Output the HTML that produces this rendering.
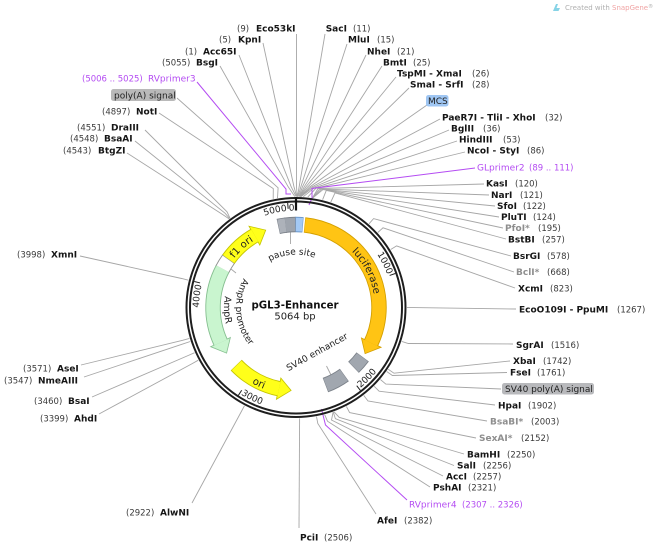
<!DOCTYPE html>
<html><head><meta charset="utf-8"><style>
html,body{margin:0;padding:0;background:#fff;}
svg{display:block;}
text{font-family:"DejaVu Sans","Liberation Sans",sans-serif;}
.n{font-size:9px;font-weight:bold;fill:#161616;}
.p{font-size:8.5px;fill:#3a3a3a;}
.g{fill:#8e8e8e;}
.pu{fill:#b44cf2;}
.f{font-size:9px;fill:#222;}
</style></head><body>
<svg width="660" height="548" viewBox="0 0 660 548" xmlns="http://www.w3.org/2000/svg">
<rect width="660" height="548" fill="#fff"/>
<defs>
<path id="cw80" d="M296,386.5 A79,79 0 1 1 296,228.5 A79,79 0 1 1 296,386.5"/>
<path id="cw53" d="M296,360.5 A53,53 0 1 1 296,254.5 A53,53 0 1 1 296,360.5"/>
<path id="cw97" d="M296,404.5 A97,97 0 1 1 296,210.5 A97,97 0 1 1 296,404.5"/>
<path id="ccw87" d="M296,220 A87.5,87.5 0 1 0 296,395 A87.5,87.5 0 1 0 296,220"/>
<path id="ccw72" d="M296,235.5 A72,72 0 1 0 296,379.5 A72,72 0 1 0 296,235.5"/>
<path id="ccw60" d="M296,247.5 A60,60 0 1 0 296,367.5 A60,60 0 1 0 296,247.5"/>
<path id="ccw103" d="M296,204.5 A103,103 0 1 0 296,410.5 A103,103 0 1 0 296,204.5"/>
</defs>

<!-- watermark -->
<path d="M553,11 L556,4 L558,4 L556.5,8 L560,8 L558.5,11 Z" fill="#86d3e6"/>
<text x="565" y="10" style="font-size:7px;fill:#b0b0b0">Created with <tspan style="fill:#f0a4a4">SnapGene</tspan><tspan style="font-size:5px" dy="-2">®</tspan></text>

<!-- connector lines -->
<g fill="none" stroke="#a6a6a6" stroke-width="0.9">
<polyline points="296.5,34 296.5,186.5 297.2,197"/>
<polyline points="263,43 293.9,186.5 296.7,196.5"/>
<polyline points="239,55 291.1,186.6 296.1,196.5"/>
<polyline points="220,66 288.2,186.8 294.8,196.5"/>
<polyline points="177,98 278.1,187.8 277.5,198.1"/>
<polyline points="159,113 273.3,188.6 273.2,198.9"/>
<polyline points="145,130 227,211.8 230,218.2"/>
<polyline points="135,141 225,213.2 229.7,218.5"/>
<polyline points="127,153 223,214.8 229.1,218.9"/>
<polyline points="325,34 299.2,186.5 297.5,196.5"/>
<polyline points="347,44 300.9,186.6 298.1,196.5"/>
<polyline points="366,55 302.5,186.7 298.9,196.5"/>
<polyline points="382,66 304.2,186.8 299.4,196.6"/>
<polyline points="396,77 305.9,186.9 299.6,196.6"/>
<polyline points="409,88 307.6,187 299.9,196.6"/>
<polyline points="427,105 309.3,187.2 300.5,196.6"/>
<polyline points="440,119 311,187.4 300.4,196.6"/>
<polyline points="449,130 312.6,187.6 301,196.6"/>
<polyline points="457,141 314.3,187.9 303.3,196.7"/>
<polyline points="465,152 316,188.2 307.8,197.1"/>
<polyline points="484,184 318,188.5 312.5,197.7"/>
<polyline points="489,195 319.7,188.9 312.6,197.7"/>
<polyline points="495,206 321.4,189.2 312.7,197.8"/>
<polyline points="499,217 323,189.5 313,197.8"/>
<polyline points="503,228 326.3,190.4 322.6,199.7"/>
<polyline points="506,239 335,192.9 330.8,202.1"/>
<polyline points="511,256 373.6,218.6 369,223.8"/>
<polyline points="514,272 383,227.8 377.8,232.5"/>
<polyline points="515,288 396.6,245.9 390.7,249.5"/>
<polyline points="516,309 414,307.6 407,307.6"/>
<polyline points="513,344 408.4,343.5 401.7,341.4"/>
<polyline points="510,361 394,373.2 388.2,369.3"/>
<polyline points="507,372.5 392.4,375.5 386.7,371.5"/>
<polyline points="501,389 385.8,384.1 380.4,379.5"/>
<polyline points="495,405 379.1,391.2 374.2,386.3"/>
<polyline points="487,421 368,401 363.7,395.4"/>
<polyline points="476,438 349.6,412.6 346.4,406.4"/>
<polyline points="464,454 339.2,417.3 334,411.8"/>
<polyline points="454,465.5 335.4,418.7 333.3,412.1"/>
<polyline points="443,476 331.5,420 333.1,412.1"/>
<polyline points="430,487 327.5,421.2 324.7,414.7"/>
<polyline points="376,514 317.8,423.5 316.5,416.6"/>
<polyline points="299,528 299.6,418.4"/>
<polyline points="192,503 241.1,412 244.4,405.8"/>
<polyline points="99,414 192.2,363.6 198.3,360.2"/>
<polyline points="92,397 188.2,355.5 194.6,352.7"/>
<polyline points="84,377 183.7,343.7 190.3,341.5"/>
<polyline points="81,365 182.6,340.3 189.4,338.4"/>
<polyline points="80,256 181.6,278.5 188.4,280.2"/>
<!-- inner feature label lines -->
<line x1="290.5" y1="231" x2="290.5" y2="244"/>
<line x1="326.5" y1="366" x2="331" y2="375"/>
<line x1="226" y1="265" x2="236" y2="273"/>
</g>
<g fill="none" stroke="#b44cf2" stroke-width="1">
<polyline points="197,82 286,189 286,194 291,194"/>
<polyline points="475,168 312,188.5 312,198 309,205"/>
<polyline points="407,500 325.5,425 323,415 321.5,409"/>
</g>

<!-- backbone -->
<circle cx="296" cy="307.5" r="109.5" fill="none" stroke="#1e1e1e" stroke-width="2"/>
<circle cx="296" cy="307.5" r="106" fill="none" stroke="#1e1e1e" stroke-width="2"/>

<!-- feature outlines -->
<g fill="none" stroke-width="15.4">
<circle cx="296" cy="307.5" r="83" stroke="#d4a000" stroke-dasharray="158.97 700" transform="rotate(-84.09 296 307.5)"/>
<circle cx="296" cy="307.5" r="83" stroke="#c4c400" stroke-dasharray="36.5 700" transform="rotate(215.35 296 307.5)"/>
<circle cx="296" cy="307.5" r="83" stroke="#86bf90" stroke-dasharray="77.5 700" transform="rotate(154.75 296 307.5)"/>
<circle cx="296" cy="307.5" r="83" stroke="#c4c400" stroke-dasharray="50.12 700" transform="rotate(101.45 296 307.5)"/>
<circle cx="296" cy="307.5" r="83" stroke="#8e8e8e" stroke-dasharray="11.73 700" transform="rotate(207.55 296 307.5)"/>
<circle cx="296" cy="307.5" r="83" stroke="#7c828a" stroke-dasharray="7.96 700" transform="rotate(257.65 296 307.5)"/>
<circle cx="296" cy="307.5" r="83" stroke="#7c828a" stroke-dasharray="10.72 700" transform="rotate(262.45 296 307.5)"/>
<circle cx="296" cy="307.5" r="83" stroke="#6b98cc" stroke-dasharray="7.53 700" transform="rotate(-90.35 296 307.5)"/>
<circle cx="296" cy="307.5" r="83" stroke="#7c828a" stroke-dasharray="13.9 700" transform="rotate(36.55 296 307.5)"/>
<circle cx="296" cy="307.5" r="83" stroke="#7c828a" stroke-dasharray="21.58 700" transform="rotate(54.35 296 307.5)"/>
</g>
<g stroke-width="1.6" stroke-linejoin="miter">
<polygon points="285.84,235.21 283.06,215.4 296,224.5" fill="#d4a000" stroke="#d4a000" transform="rotate(123.3 296 307.5)"/>
<polygon points="285.84,235.21 283.06,215.4 296,224.5" fill="#c4c400" stroke="#c4c400" transform="rotate(338.2 296 307.5)"/>
<polygon points="306.16,235.21 308.94,215.4 296,224.5" fill="#86bf90" stroke="#86bf90" transform="rotate(237.1 296 307.5)"/>
<polygon points="306.16,235.21 308.94,215.4 296,224.5" fill="#c4c400" stroke="#c4c400" transform="rotate(183.8 296 307.5)"/>
</g>
<!-- feature fills -->
<g fill="none" stroke-width="13.6">
<circle cx="296" cy="307.5" r="83" stroke="#ffc414" stroke-dasharray="157.96 700" transform="rotate(-83.74 296 307.5)"/>
<circle cx="296" cy="307.5" r="83" stroke="#ffff1a" stroke-dasharray="35.49 700" transform="rotate(215.7 296 307.5)"/>
<circle cx="296" cy="307.5" r="83" stroke="#c9f5cf" stroke-dasharray="76.49 700" transform="rotate(155.1 296 307.5)"/>
<circle cx="296" cy="307.5" r="83" stroke="#ffff1a" stroke-dasharray="49.11 700" transform="rotate(101.8 296 307.5)"/>
<circle cx="296" cy="307.5" r="83" stroke="#ffffff" stroke-dasharray="10.72 700" transform="rotate(207.9 296 307.5)"/>
<circle cx="296" cy="307.5" r="83" stroke="#adb2ba" stroke-dasharray="6.95 700" transform="rotate(258 296 307.5)"/>
<circle cx="296" cy="307.5" r="83" stroke="#9ea4ad" stroke-dasharray="9.71 700" transform="rotate(262.8 296 307.5)"/>
<circle cx="296" cy="307.5" r="83" stroke="#a3c9f5" stroke-dasharray="6.52 700" transform="rotate(-90 296 307.5)"/>
<circle cx="296" cy="307.5" r="83" stroke="#a1a7af" stroke-dasharray="12.89 700" transform="rotate(36.9 296 307.5)"/>
<circle cx="296" cy="307.5" r="83" stroke="#a1a7af" stroke-dasharray="20.57 700" transform="rotate(54.7 296 307.5)"/>
</g>
<g>
<polygon points="285.84,235.21 283.06,215.4 296,224.5" fill="#ffc414" transform="rotate(123.3 296 307.5)"/>
<polygon points="285.84,235.21 283.06,215.4 296,224.5" fill="#ffff1a" transform="rotate(338.2 296 307.5)"/>
<polygon points="306.16,235.21 308.94,215.4 296,224.5" fill="#c9f5cf" transform="rotate(237.1 296 307.5)"/>
<polygon points="306.16,235.21 308.94,215.4 296,224.5" fill="#ffff1a" transform="rotate(183.8 296 307.5)"/>
</g>

<!-- ticks -->
<g stroke="#1e1e1e" stroke-width="1">
<line x1="296" y1="202.5" x2="296" y2="208.5" transform="rotate(71.09 296 307.5)"/>
<line x1="296" y1="202.5" x2="296" y2="208.5" transform="rotate(142.17 296 307.5)"/>
<line x1="296" y1="202.5" x2="296" y2="208.5" transform="rotate(213.27 296 307.5)"/>
<line x1="296" y1="202.5" x2="296" y2="208.5" transform="rotate(284.36 296 307.5)"/>
<line x1="296" y1="202.5" x2="296" y2="208.5" transform="rotate(355.45 296 307.5)"/>
</g>
<line x1="296" y1="197.5" x2="296" y2="210.5" stroke="#111" stroke-width="2.2"/>

<!-- arc texts -->
<g style="font-size:9px;fill:#222">
<text><textPath href="#cw97" startOffset="69.5%" text-anchor="end">1000</textPath></text>
<text><textPath href="#cw97" startOffset="28.74%" text-anchor="end">4000</textPath></text>
<text><textPath href="#cw97" startOffset="48.49%" text-anchor="end">5000</textPath></text>
<text><textPath href="#cw97" startOffset="49.75%" text-anchor="end">0</textPath></text>
<text><textPath href="#ccw103" startOffset="60.76%" text-anchor="start">2000</textPath></text>
<text><textPath href="#ccw103" startOffset="41.01%" text-anchor="start">3000</textPath></text>
<text><textPath href="#cw53" startOffset="48.75%" text-anchor="middle">pause site</textPath></text>
<text><textPath href="#ccw60" startOffset="26.39%" text-anchor="middle">AmpR promoter</textPath></text>
<text style="font-size:9.5px"><textPath href="#ccw72" startOffset="25.56%" text-anchor="middle">AmpR</textPath></text>
<text style="font-size:10px"><textPath href="#cw80" startOffset="67.39%" text-anchor="middle">luciferase</textPath></text>
<text style="font-size:10px"><textPath href="#cw80" startOffset="38.33%" text-anchor="middle">f1 ori</textPath></text>
<text style="font-size:10px"><textPath href="#ccw87" startOffset="42.78%" text-anchor="middle">ori</textPath></text>
</g>
<text x="317" y="355" text-anchor="middle" transform="rotate(-29 317 352)" style="font-size:9px;fill:#222">SV40 enhancer</text>

<!-- center -->
<text x="295" y="308.5" text-anchor="middle" style="font-size:10.5px;font-weight:bold;fill:#111" textLength="87" lengthAdjust="spacingAndGlyphs">pGL3-Enhancer</text>
<text x="295" y="319.5" text-anchor="middle" style="font-size:10px;fill:#222">5064 bp</text>

<!-- label boxes -->
<rect x="111" y="89" width="65" height="12" rx="2.5" fill="#b9b9b9"/>
<text class="f" x="114" y="98.3">poly(A) signal</text>
<rect x="426" y="95" width="22.5" height="11.5" rx="2.5" fill="#9fc6f3"/>
<text class="f" x="428" y="104">MCS</text>
<rect x="502" y="383" width="92" height="11.5" rx="2.5" fill="#b8b9bc"/>
<text class="f" x="505" y="392">SV40 poly(A) signal</text>

<!-- left labels -->
<text class="p" x="237" y="31.5">(9)</text><text class="n" x="256" y="31.5">Eco53kI</text>
<text class="p" x="219" y="42.5">(5)</text><text class="n" x="238" y="42.5">KpnI</text>
<text class="p" x="185" y="54.5">(1)</text><text class="n" x="203" y="54.5">Acc65I</text>
<text class="p" x="162" y="65.5">(5055)</text><text class="n" x="196" y="65.5">BsgI</text>
<text class="p pu" x="82" y="81.5">(5006 .. 5025)</text><text class="pu" style="font-size:9px" x="148" y="81.5">RVprimer3</text>
<text class="p" x="102" y="114.5">(4897)</text><text class="n" x="136" y="114.5">NotI</text>
<text class="p" x="77" y="130.5">(4551)</text><text class="n" x="111" y="130.5">DraIII</text>
<text class="p" x="70" y="141.5">(4548)</text><text class="n" x="104" y="141.5">BsaAI</text>
<text class="p" x="63" y="153.5">(4543)</text><text class="n" x="98" y="153.5">BtgZI</text>

<text class="p" x="17" y="257.3">(3998)</text><text class="n" x="51" y="257.3">XmnI</text>
<text class="p" x="23" y="371.6">(3571)</text><text class="n" x="57" y="371.6">AseI</text>
<text class="p" x="4" y="383.3">(3547)</text><text class="n" x="38" y="383.3">NmeAIII</text>
<text class="p" x="34" y="404">(3460)</text><text class="n" x="68" y="404">BsaI</text>
<text class="p" x="40" y="421.6">(3399)</text><text class="n" x="74" y="421.6">AhdI</text>
<text class="p" x="126" y="515.3">(2922)</text><text class="n" x="160" y="515.3">AlwNI</text>

<!-- right labels -->
<text class="n" x="325.7" y="31.5">SacI</text><text class="p" x="353" y="31.5">(11)</text>
<text class="n" x="348" y="42.5">MluI</text><text class="p" x="377" y="42.5">(15)</text>
<text class="n" x="367" y="54.5">NheI</text><text class="p" x="397" y="54.5">(21)</text>
<text class="n" x="383" y="65.5">BmtI</text><text class="p" x="413" y="65.5">(25)</text>
<text class="n" x="397" y="76.5">TspMI - XmaI</text><text class="p" x="472" y="76.5">(26)</text>
<text class="n" x="410" y="87.5">SmaI - SrfI</text><text class="p" x="472" y="87.5">(28)</text>
<text class="n" x="442" y="120.5">PaeR7I - TliI - XhoI</text><text class="p" x="545" y="120.5">(32)</text>
<text class="n" x="451" y="131.5">BglII</text><text class="p" x="483" y="131.5">(36)</text>
<text class="n" x="459" y="142.5">HindIII</text><text class="p" x="503" y="142.5">(53)</text>
<text class="n" x="467" y="153.5">NcoI - StyI</text><text class="p" x="527" y="153.5">(86)</text>
<text class="pu" style="font-size:9px" x="477" y="170.5">GLprimer2</text><text class="p pu" x="529" y="170.5">(89 .. 111)</text>
<text class="n" x="486" y="186.5">KasI</text><text class="p" x="515" y="186.5">(120)</text>
<text class="n" x="491" y="198">NarI</text><text class="p" x="520" y="198">(121)</text>
<text class="n" x="497" y="209">SfoI</text><text class="p" x="523" y="209">(122)</text>
<text class="n" x="501" y="220">PluTI</text><text class="p" x="533" y="220">(124)</text>
<text class="n g" x="505" y="231">PfoI*</text><text class="p" x="538" y="231">(195)</text>
<text class="n" x="508" y="242.3">BstBI</text><text class="p" x="542" y="242.3">(257)</text>
<text class="n" x="513" y="259">BsrGI</text><text class="p" x="547" y="259">(578)</text>
<text class="n g" x="516" y="275">BclI*</text><text class="p" x="547" y="275">(668)</text>
<text class="n" x="518" y="291.6">XcmI</text><text class="p" x="550" y="291.6">(823)</text>
<text class="n" x="519" y="312.6">EcoO109I - PpuMI</text><text class="p" x="617" y="312.6">(1267)</text>
<text class="n" x="516" y="347.8">SgrAI</text><text class="p" x="551" y="347.8">(1516)</text>
<text class="n" x="513" y="364">XbaI</text><text class="p" x="543" y="364">(1742)</text>
<text class="n" x="510" y="375.3">FseI</text><text class="p" x="537" y="375.3">(1761)</text>
<text class="n" x="498" y="408.3">HpaI</text><text class="p" x="528" y="408.3">(1902)</text>
<text class="n g" x="490" y="424.3">BsaBI*</text><text class="p" x="531" y="424.3">(2003)</text>
<text class="n g" x="479" y="441">SexAI*</text><text class="p" x="521" y="441">(2152)</text>
<text class="n" x="467" y="457.3">BamHI</text><text class="p" x="507" y="457.3">(2250)</text>
<text class="n" x="457" y="468.6">SalI</text><text class="p" x="483" y="468.6">(2256)</text>
<text class="n" x="446" y="479.3">AccI</text><text class="p" x="473" y="479.3">(2257)</text>
<text class="n" x="433" y="490.3">PshAI</text><text class="p" x="468" y="490.3">(2321)</text>
<text class="pu" style="font-size:9px" x="409" y="507.3">RVprimer4</text><text class="p pu" x="462" y="507.3">(2307 .. 2326)</text>
<text class="n" x="377" y="523.6">AfeI</text><text class="p" x="404" y="523.6">(2382)</text>
<text class="n" x="300" y="540.3">PciI</text><text class="p" x="324" y="540.3">(2506)</text>
</svg>
</body></html>
